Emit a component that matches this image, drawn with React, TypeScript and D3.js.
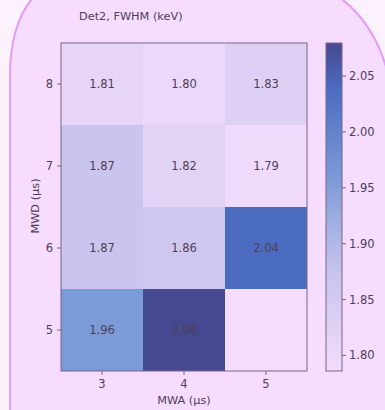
import React from "react";
import * as d3 from "d3";

// Shaping windows (µs)
const mwa = [3, 4, 5];
const mwd = [8, 7, 6, 5];

// FWHM (keV) per MWD row (top to bottom), one entry per MWA column
const fwhmMwd8 = [1.81, 1.8, 1.83];
const fwhmMwd7 = [1.87, 1.82, 1.79];
const fwhmMwd6 = [1.87, 1.86, 2.04];
const fwhmMwd5: (number | null)[] = [1.96, 2.08, null];

const colorbarTicks = [1.8, 1.85, 1.9, 1.95, 2.0, 2.05];
const colorRange = [1.786, 2.0796];

const W = 385;
const H = 410;
const FONT = "DejaVu Sans, sans-serif";
const TEXT = "#4e3f58";
const SPINE = "#7a6482";

const cmapStops: [number, string][] = [
  [0, "#f3dcfd"],
  [0.15, "#ddd0f4"],
  [0.29, "#c9c5ee"],
  [0.42, "#a9b4e4"],
  [0.59, "#7b9ad8"],
  [0.86, "#4b6cc0"],
  [1, "#464890"],
];

export default function App() {
  const rows = [fwhmMwd8, fwhmMwd7, fwhmMwd6, fwhmMwd5];
  const cells = rows.flatMap((row, i) =>
    row.map((v, j) => ({ x: mwa[j], y: mwd[i], v }))
  );

  const plot = { left: 61, right: 307, top: 43, bottom: 371 };
  const x = d3.scaleBand<number>().domain(mwa).range([plot.left, plot.right]).padding(0);
  const y = d3.scaleBand<number>().domain(mwd).range([plot.top, plot.bottom]).padding(0);

  const norm = d3.scaleLinear().domain(colorRange).range([0, 1]).clamp(true);
  const cmap = d3
    .scaleLinear<string>()
    .domain(cmapStops.map((s) => s[0]))
    .range(cmapStops.map((s) => s[1]))
    .interpolate(d3.interpolateRgb);
  const color = (v: number) => cmap(norm(v));

  const cb = { left: 326, right: 342, top: 43, bottom: 371 };
  const cbY = d3.scaleLinear().domain(colorRange).range([cb.bottom, cb.top]);

  // Figure box with rounded upper corners
  const L = 10, T = -34, R = 395, rl = 109, rr = 170;
  const boxPath = `M ${L} ${H + 20} L ${L} ${T + rl} Q ${L} ${T} ${L + rl} ${T} L ${R - rr} ${T} Q ${R} ${T} ${R} ${T + rr} L ${R} ${H + 20}`;

  return (
    <div style={{ position: "fixed", left: 0, top: 0 }}>
      <svg width={W} height={H} style={{ display: "block" }} fontFamily={FONT}>
        <defs>
          <linearGradient id="cbar" x1="0" y1="1" x2="0" y2="0">
            {cmapStops.map(([t, c]) => (
              <stop key={t} offset={t} stopColor={c} />
            ))}
          </linearGradient>
        </defs>
        <rect width={W} height={H} fill="#fcf2fe" />
        <path d={boxPath} fill="#f6dcfe" stroke="#e49cf6" strokeWidth={2} />

        <text x={79} y={19.5} fontSize={11.3} fill={TEXT}>
          Det2, FWHM (keV)
        </text>

        {/* heatmap cells */}
        {cells.map((c) =>
          c.v == null ? null : (
            <g key={`${c.x}-${c.y}`}>
              <rect
                x={x(c.x)}
                y={y(c.y)}
                width={x.bandwidth()}
                height={y.bandwidth()}
                fill={color(c.v)}
              />
              <text
                x={(x(c.x) as number) + x.bandwidth() / 2}
                y={(y(c.y) as number) + y.bandwidth() / 2}
                dy="0.36em"
                textAnchor="middle"
                fontSize={11.5}
                fill={TEXT}
              >
                {c.v.toFixed(2)}
              </text>
            </g>
          )
        )}
        <rect
          x={plot.left}
          y={plot.top}
          width={plot.right - plot.left}
          height={plot.bottom - plot.top}
          fill="none"
          stroke={SPINE}
          strokeWidth={1}
        />

        {/* y axis */}
        {mwd.map((d) => {
          const cy = (y(d) as number) + y.bandwidth() / 2;
          return (
            <g key={`y${d}`}>
              <line x1={plot.left - 4} x2={plot.left} y1={cy} y2={cy} stroke={SPINE} />
              <text x={plot.left - 8} y={cy} dy="0.36em" textAnchor="end" fontSize={11.5} fill={TEXT}>
                {d}
              </text>
            </g>
          );
        })}
        <text
          transform={`translate(38.5,206) rotate(-90)`}
          textAnchor="middle"
          fontSize={11.3}
          fill={TEXT}
        >
          MWD (μs)
        </text>

        {/* x axis */}
        {mwa.map((d) => {
          const cx = (x(d) as number) + x.bandwidth() / 2;
          return (
            <g key={`x${d}`}>
              <line x1={cx} x2={cx} y1={plot.bottom} y2={plot.bottom + 4} stroke={SPINE} />
              <text x={cx} y={387.5} textAnchor="middle" fontSize={11.5} fill={TEXT}>
                {d}
              </text>
            </g>
          );
        })}
        <text x={(plot.left + plot.right) / 2} y={403.5} textAnchor="middle" fontSize={11.3} fill={TEXT}>
          MWA (μs)
        </text>

        {/* colorbar */}
        <rect
          x={cb.left}
          y={cb.top}
          width={cb.right - cb.left}
          height={cb.bottom - cb.top}
          fill="url(#cbar)"
          stroke={SPINE}
          strokeWidth={1}
        />
        {colorbarTicks.map((t) => (
          <g key={`c${t}`}>
            <line x1={cb.right} x2={cb.right + 4} y1={cbY(t)} y2={cbY(t)} stroke={SPINE} />
            <text x={cb.right + 7} y={cbY(t)} dy="0.36em" fontSize={11.5} fill={TEXT}>
              {t.toFixed(2)}
            </text>
          </g>
        ))}
      </svg>
    </div>
  );
}
